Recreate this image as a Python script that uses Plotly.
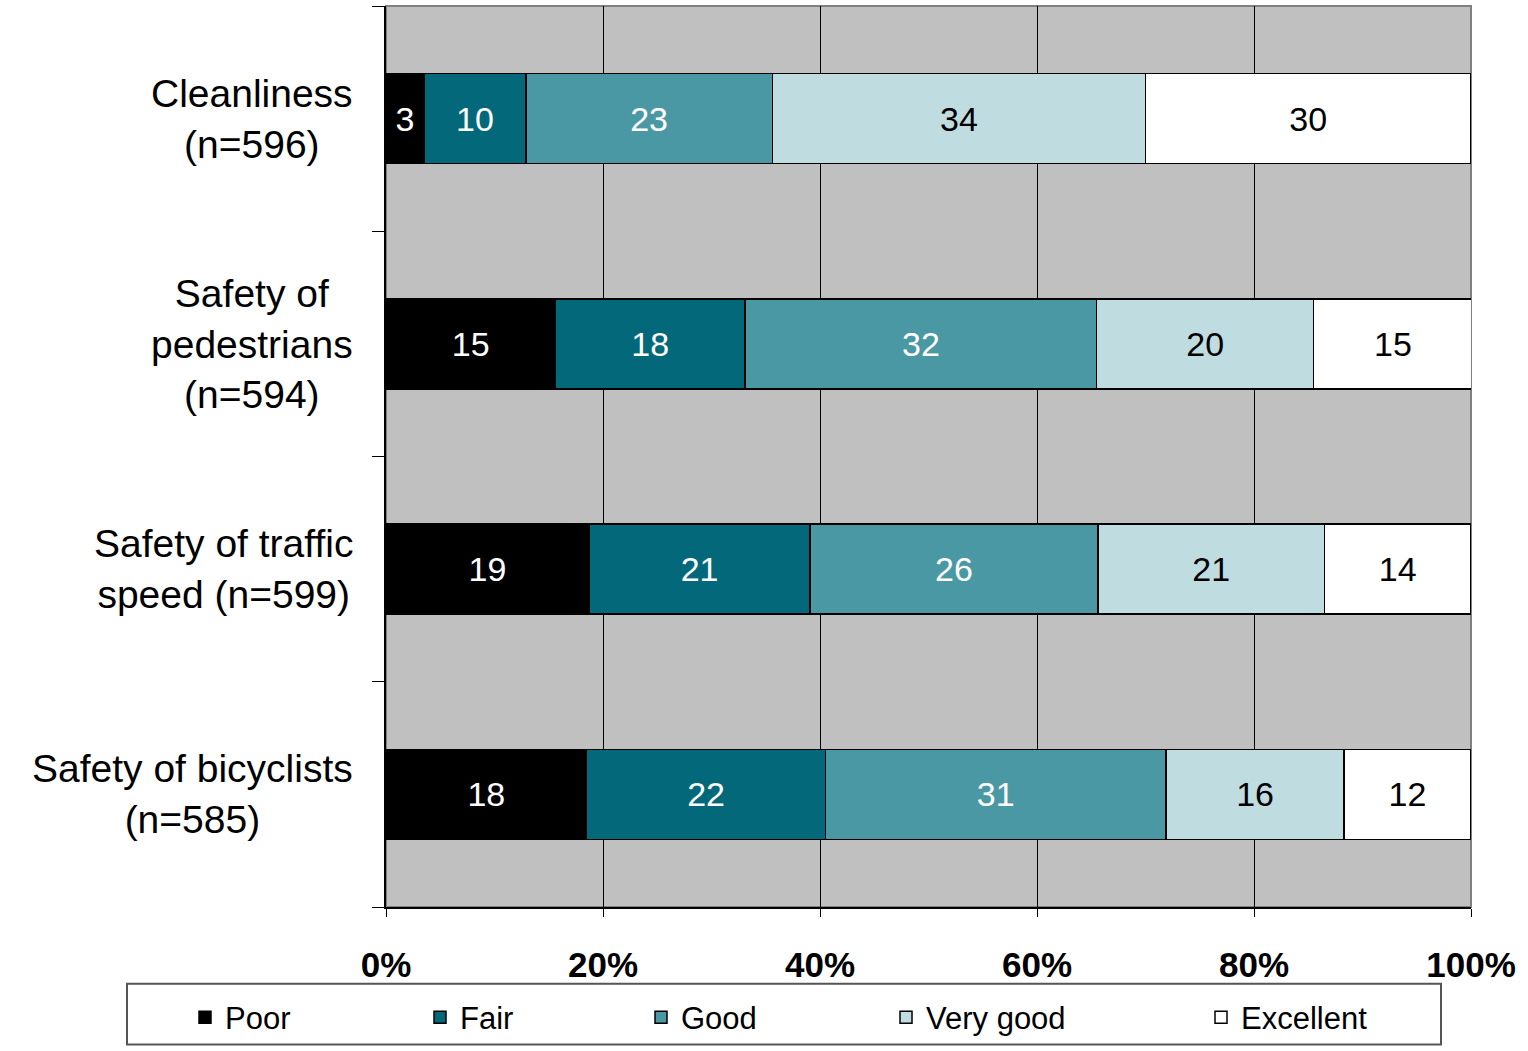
import plotly.graph_objects as go

categories = ["Cleanliness", "Safety of pedestrians", "Safety of traffic speed", "Safety of bicyclists"]
category_labels = [
    "Cleanliness<br>(n=596)",
    "Safety of<br>pedestrians<br>(n=594)",
    "Safety of traffic<br>speed (n=599)",
    "Safety of bicyclists<br>(n=585)",
]

ratings = ["Poor", "Fair", "Good", "Very good", "Excellent"]

# bar lengths (%) as measured from the chart
poor = [3.5, 15.6, 18.7, 18.5]
fair = [9.4, 17.5, 20.4, 22.0]
good = [22.7, 32.4, 26.5, 31.4]
very_good = [34.4, 20.0, 20.9, 16.4]
excellent = [30.0, 14.6, 13.5, 11.7]

# printed labels
poor_lbl = [3, 15, 19, 18]
fair_lbl = [10, 18, 21, 22]
good_lbl = [23, 32, 26, 31]
very_good_lbl = [34, 20, 21, 16]
excellent_lbl = [30, 15, 14, 12]

colors = ["#000000", "#03687A", "#4A98A4", "#BFDDE1", "#FFFFFF"]
text_colors = ["white", "white", "white", "black", "black"]
values = [poor, fair, good, very_good, excellent]
labels = [poor_lbl, fair_lbl, good_lbl, very_good_lbl, excellent_lbl]

FONT = "Liberation Sans, Arial, sans-serif"
W, H = 1528, 1051
L, R, T, B = 386, 57, 6, 141
PW, PH = W - L - R, H - T - B


def px_x(px):
    return (px - L) / PW


def px_y(py):
    return (H - B - py) / PH


# left edge of each legend entry (pixels), Excel spreads them with equal gaps
legend_left = [185, 420, 641, 886, 1201]

fig = go.Figure()

for i, name in enumerate(ratings):
    lg = "legend" if i == 0 else f"legend{i + 1}"
    fig.add_trace(
        go.Bar(
            y=categories,
            x=values[i],
            orientation="h",
            name=name,
            width=0.4,
            marker=dict(color=colors[i], line=dict(color="black", width=1.5)),
            text=[str(v) for v in labels[i]],
            textposition="inside",
            insidetextanchor="middle",
            textfont=dict(family=FONT, size=34, color=text_colors[i]),
            hoverinfo="skip",
            legend=lg,
        )
    )

for cat, lab in zip(categories, category_labels):
    fig.add_annotation(
        x=px_x(355),
        xref="paper",
        y=cat,
        yref="y",
        text=lab,
        showarrow=False,
        xanchor="right",
        yanchor="middle",
        align="center",
        font=dict(family=FONT, size=39, color="black"),
    )

# plot area border (top/right in gray)
fig.add_shape(
    type="rect", xref="paper", yref="paper", x0=0, x1=1, y0=0, y1=1,
    line=dict(color="#808080", width=2), layer="below",
)
# legend box
fig.add_shape(
    type="rect", xref="paper", yref="paper",
    x0=px_x(127), x1=px_x(1441), y0=px_y(1048), y1=px_y(987),
    line=dict(color="#555555", width=2), fillcolor="white",
)

legends = {}
for i, xl in enumerate(legend_left):
    key = "legend" if i == 0 else f"legend{i + 1}"
    legends[key] = dict(
        orientation="h",
        x=px_x(xl),
        xanchor="left",
        y=px_y(994),
        yanchor="top",
        bgcolor="rgba(0,0,0,0)",
        borderwidth=0,
        font=dict(family=FONT, size=31, color="black"),
        itemclick=False,
        itemdoubleclick=False,
    )

fig.update_layout(
    width=W,
    height=H,
    barmode="stack",
    plot_bgcolor="#C0C0C0",
    paper_bgcolor="white",
    margin=dict(l=L, r=R, t=T, b=B),
    font=dict(family=FONT, color="black"),
    showlegend=True,
    uniformtext=dict(minsize=34, mode="show"),
    xaxis=dict(
        range=[0, 100],
        tickvals=[0, 20, 40, 60, 80, 100],
        ticktext=["0%", "20%", "40%", "60%", "80%", "100%"],
        showgrid=True,
        gridcolor="black",
        gridwidth=1,
        zeroline=False,
        showline=True,
        linecolor="black",
        linewidth=1.5,
        ticks="outside",
        ticklen=8,
        tickcolor="black",
        tickfont=dict(family=FONT, size=35, color="black", weight="bold"),
        ticklabelstandoff=18,
        fixedrange=True,
    ),
    yaxis=dict(
        categoryorder="array",
        categoryarray=categories[::-1],
        range=[-0.5, 3.5],
        showticklabels=False,
        tickson="boundaries",
        ticks="outside",
        ticklen=12,
        tickcolor="black",
        showgrid=False,
        showline=True,
        linecolor="black",
        linewidth=1.5,
        fixedrange=True,
    ),
    **legends,
)

fig.write_html(
    "out.html",
    config={"displayModeBar": False},
    post_script="document.body.style.margin='0';",
)
